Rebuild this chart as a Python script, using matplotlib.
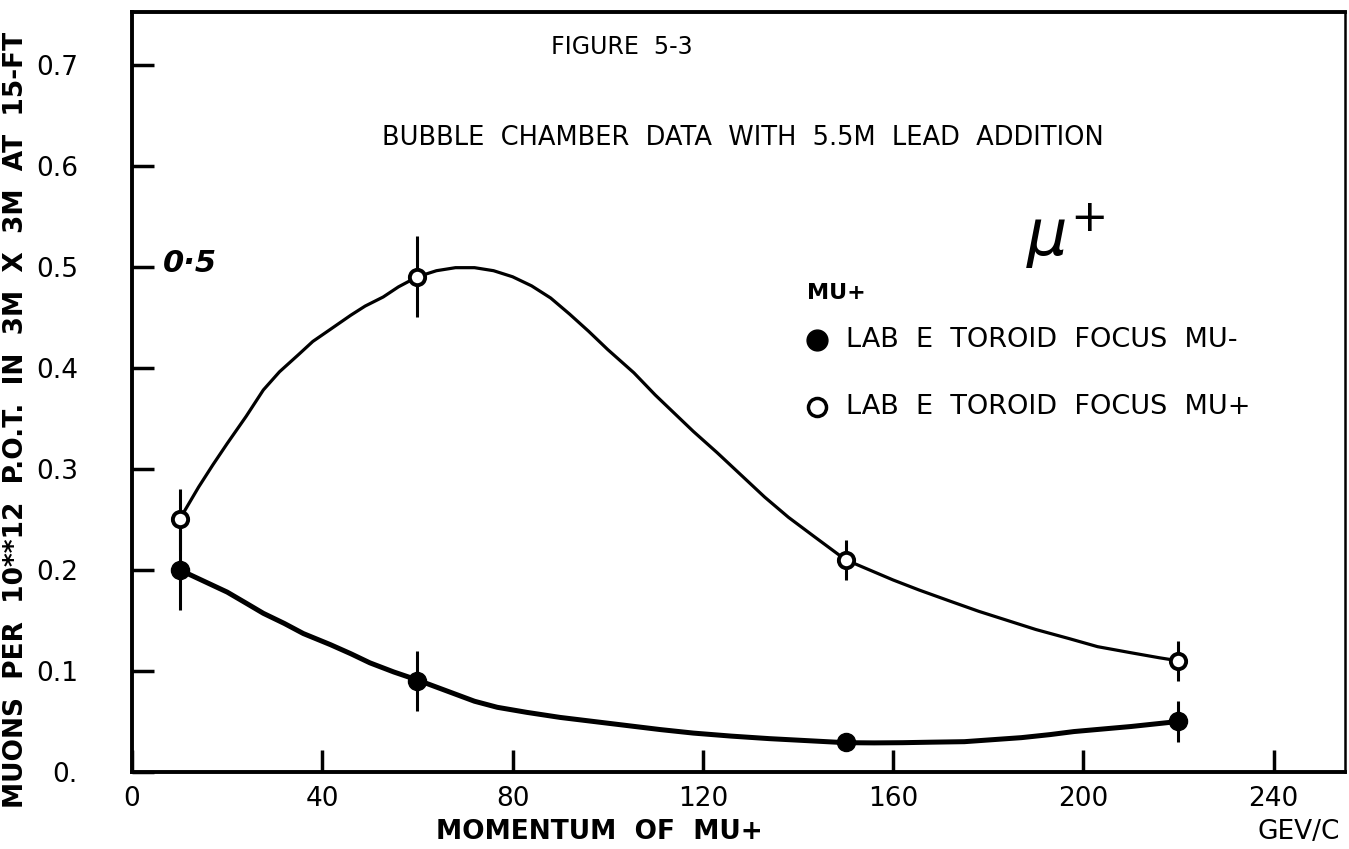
import matplotlib
matplotlib.use('Agg')
import matplotlib.pyplot as plt
import numpy as np

# measured points
momentum = [10, 60, 150, 220]
mu_minus = [0.20, 0.09, 0.03, 0.05]
mu_minus_err = [0.04, 0.03, 0.0, 0.02]
mu_plus = [0.25, 0.49, 0.21, 0.11]
mu_plus_err = [0.03, 0.04, 0.02, 0.02]

# hand drawn fit curves
fit_plus_x = [10, 12, 14, 17, 20, 24, 27.6, 31, 35, 38, 41.7, 46, 49, 52.8, 56, 60,
              64, 68, 72, 76, 80, 84, 88, 92, 96, 100, 105.5, 110, 114, 118, 123,
              128, 133, 138, 143.4, 150, 155, 160, 165.5, 172, 178, 184, 190, 197,
              203, 210, 216, 220]
fit_plus_y = [0.25, 0.266, 0.282, 0.304, 0.325, 0.352, 0.378, 0.396, 0.413, 0.426,
              0.438, 0.452, 0.461, 0.470, 0.480, 0.490, 0.496, 0.499, 0.499, 0.496,
              0.490, 0.481, 0.469, 0.453, 0.436, 0.418, 0.395, 0.373, 0.355, 0.337,
              0.316, 0.294, 0.272, 0.252, 0.233, 0.21, 0.200, 0.190, 0.180, 0.169,
              0.159, 0.150, 0.141, 0.132, 0.124, 0.118, 0.113, 0.11]
fit_minus_x = [10, 15, 20, 24, 27.6, 32, 36, 41.7, 46, 50, 55, 60, 64, 68, 72, 76.8,
               83, 90, 97, 104, 111, 118, 126, 134, 142, 150, 156, 162, 168, 175,
               181, 187, 193, 198, 204, 210, 215, 220]
fit_minus_y = [0.20, 0.189, 0.178, 0.167, 0.157, 0.147, 0.137, 0.126, 0.117, 0.108,
               0.099, 0.091, 0.084, 0.077, 0.070, 0.064, 0.059, 0.054, 0.050, 0.046,
               0.042, 0.0385, 0.0355, 0.033, 0.031, 0.029, 0.0288, 0.029, 0.0295,
               0.030, 0.032, 0.034, 0.037, 0.040, 0.0425, 0.045, 0.0475, 0.050]

xticks = [0, 40, 80, 120, 160, 200, 240]
yticks = [0, 0.1, 0.2, 0.3, 0.4, 0.5, 0.6, 0.7]
ylabels = ['0.', '0.1', '0.2', '0.3', '0.4', '0.5', '0.6', '0.7']

fig = plt.figure(figsize=(13.49, 8.49), dpi=100)
ax = fig.add_axes([0.0979, 0.0907, 0.8991, 0.8952])

ax.plot(fit_plus_x, fit_plus_y, color='black', lw=2.3, solid_capstyle='round',
        solid_joinstyle='round')
ax.plot(fit_minus_x, fit_minus_y, color='black', lw=3.6, solid_capstyle='round',
        solid_joinstyle='round')

ax.errorbar(momentum, mu_minus, yerr=mu_minus_err, fmt='o', color='black', ms=13,
            elinewidth=2.2, capsize=0)
ax.errorbar(momentum, mu_plus, yerr=mu_plus_err, fmt='o', color='black', ms=11,
            mfc='white', mec='black', mew=2.8, elinewidth=2.2, capsize=0)

ax.set_xlim(0, 255)
ax.set_ylim(0, 0.752)
ax.set_xticks(xticks)
ax.set_yticks(yticks)
ax.set_yticklabels(ylabels)
ax.tick_params(axis='both', direction='in', length=16, width=2.5, labelsize=19)
ax.tick_params(axis='y', pad=39)
ax.tick_params(axis='x', pad=10)
for s in ['left', 'bottom', 'top']:
    ax.spines[s].set_linewidth(2.8)
ax.spines['right'].set_linewidth(1.8)

# annotations
ax.text(88, 0.717, 'FIGURE  5-3', fontsize=17, va='center')
ax.text(52.5, 0.627, 'BUBBLE  CHAMBER  DATA  WITH  5.5M  LEAD  ADDITION', fontsize=18.5,
        va='center')
ax.text(142, 0.474, 'MU+', fontsize=16, va='center', fontweight='bold')
ax.plot([144], [0.427], 'o', color='black', ms=15)
ax.plot([144], [0.361], 'o', mfc='white', mec='black', mew=2.5, ms=13)
ax.text(150, 0.427, 'LAB  E  TOROID  FOCUS  MU-', fontsize=19.5, va='center')
ax.text(150, 0.361, 'LAB  E  TOROID  FOCUS  MU+', fontsize=19.5, va='center')
ax.text(188, 0.53, r'$\mu^{+}$', fontsize=46, va='center', style='italic')
ax.text(6.5, 0.503, '0·5', fontsize=22, va='center', fontweight='heavy', style='italic')

fig.text(0.444, 0.012, 'MOMENTUM  OF  MU+', fontsize=19, ha='center', fontweight='bold')
fig.text(0.963, 0.012, 'GEV/C', fontsize=19, ha='center')
fig.text(0.012, 0.505, 'MUONS  PER  10**12  P.O.T.  IN  3M  X  3M  AT  15-FT', fontsize=19,
         rotation=90, ha='center', va='center', fontweight='bold')

fig.savefig('out.png', dpi=100)
